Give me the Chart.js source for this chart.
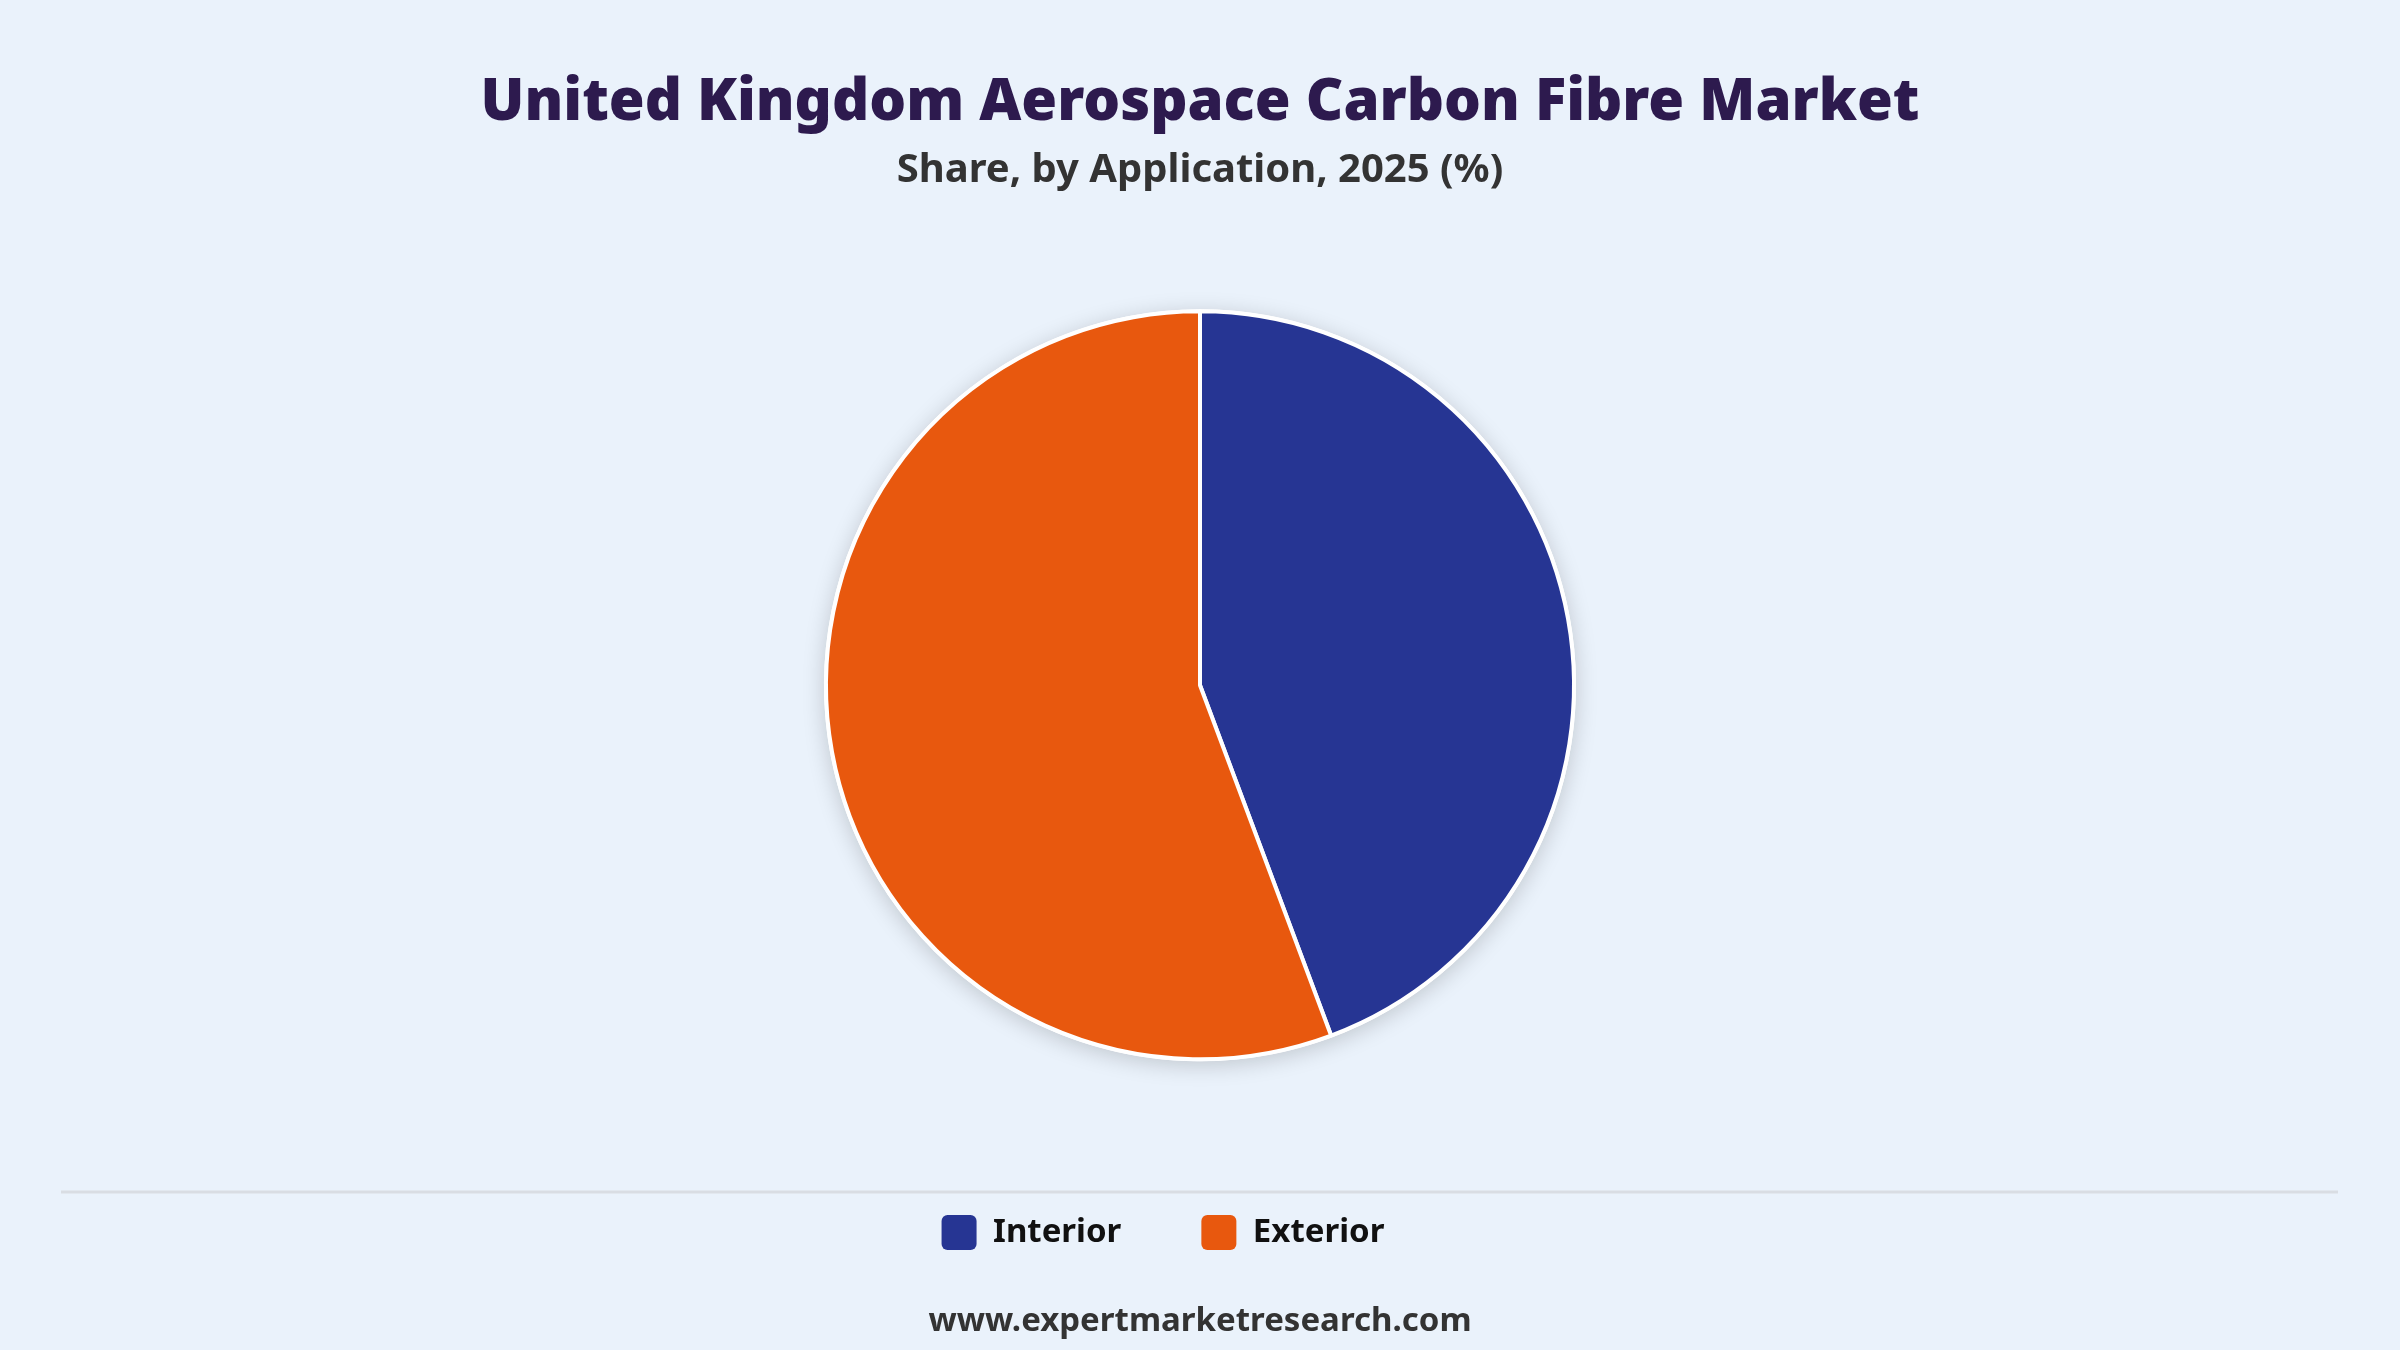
<!DOCTYPE html>
<html>
<head>
<meta charset="utf-8">
<script src="https://cdn.jsdelivr.net/npm/chart.js@4"></script>
<style>
  html, body { margin: 0; padding: 0; background: #eaf2fb; }
  #wrap { width: 2400px; height: 1350px; position: relative; }
</style>
</head>
<body>
<div id="wrap"><canvas id="pieChart" width="2400" height="1350"></canvas></div>
<script>
const labels = ['Interior', 'Exterior'];
const shares = [44.3, 55.7];
const colors = ['#263593', '#e8580e'];

const titleText = 'United Kingdom Aerospace Carbon Fibre Market';
const subtitleText = 'Share, by Application, 2025 (%)';
const footerText = 'www.expertmarketresearch.com';

// soft shadow behind the pie + separator line and footer
const decor = {
    id: 'decor',
    afterLayout(chart) {
        // legend in the original sits a little left of centre
        chart.legend.right -= 74;
    },
    beforeDatasetsDraw(chart) {
        const arc = chart.getDatasetMeta(0).data[0];
        if (!arc) return;
        const ctx = chart.ctx;
        ctx.save();
        ctx.shadowColor = 'rgba(0,0,0,0.18)';
        ctx.shadowBlur = 22;
        ctx.shadowOffsetY = 4;
        ctx.fillStyle = '#ffffff';
        ctx.beginPath();
        ctx.arc(arc.x, arc.y, arc.outerRadius + 2, 0, Math.PI * 2);
        ctx.fill();
        ctx.restore();
    },
    afterDraw(chart) {
        const ctx = chart.ctx;
        ctx.save();
        ctx.strokeStyle = '#d9dde3';
        ctx.lineWidth = 3;
        ctx.beginPath();
        ctx.moveTo(61, 1192);
        ctx.lineTo(2338, 1192);
        ctx.stroke();
        ctx.fillStyle = '#333333';
        ctx.font = 'bold 33px "Noto Sans"';
        ctx.textAlign = 'center';
        ctx.textBaseline = 'middle';
        ctx.fillText(footerText, 1200, 1322);
        ctx.restore();
    }
};

new Chart(document.getElementById('pieChart'), {
    type: 'pie',
    data: {
        labels: labels,
        datasets: [{
            data: shares,
            backgroundColor: colors,
            borderColor: '#ffffff',
            borderWidth: 4,
            radius: 374
        }]
    },
    options: {
        responsive: false,
        animation: false,
        layout: { padding: { bottom: 90 } },
        plugins: {
            title: {
                display: true,
                text: titleText,
                color: '#2d1a4e',
                font: { family: '"Noto Sans"', size: 58, weight: 900 },
                padding: { top: 69, bottom: 8 }
            },
            subtitle: {
                display: true,
                text: subtitleText,
                color: '#333333',
                font: { family: '"Noto Sans"', size: 40, weight: 'bold' },
                padding: { top: 0, bottom: 41 }
            },
            legend: {
                position: 'bottom',
                labels: {
                    color: '#111111',
                    font: { family: '"Noto Sans"', size: 33, weight: 'bold' },
                    boxWidth: 35,
                    boxHeight: 35,
                    padding: 80,
                    useBorderRadius: true,
                    borderRadius: 6,
                    generateLabels(chart) {
                        const items = Chart.overrides.pie.plugins.legend.labels.generateLabels(chart);
                        items.forEach(it => { it.lineWidth = 0; });
                        return items;
                    }
                }
            },
            tooltip: { enabled: false }
        }
    },
    plugins: [decor]
});
</script>
</body>
</html>
